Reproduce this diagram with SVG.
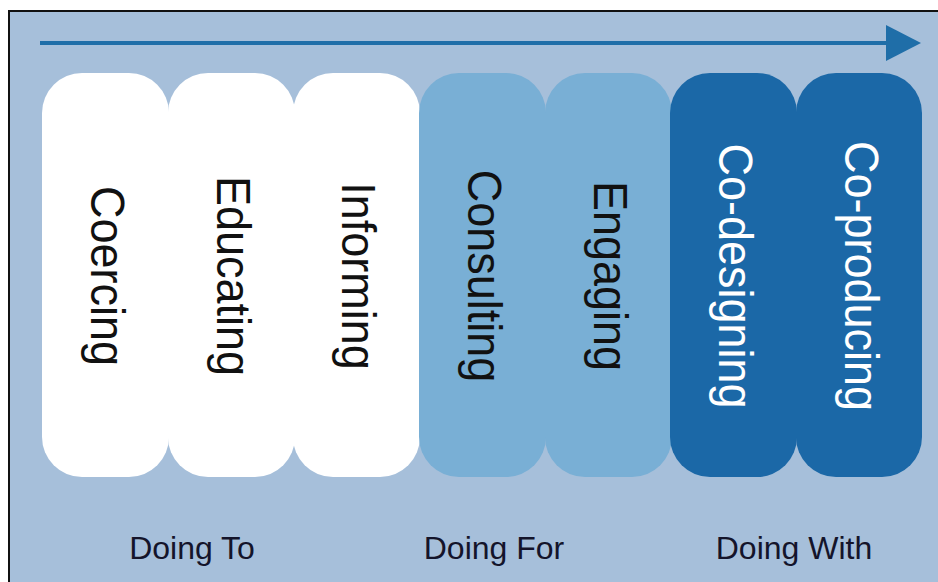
<svg xmlns="http://www.w3.org/2000/svg" width="938" height="582" viewBox="0 0 938 582">
<style>
.pill{stroke:none}
.w{fill:#ffffff}
.l{fill:#79afd5}
.d{fill:#1b68a7}
.vt{font-family:"Liberation Sans",Arial,sans-serif;font-size:45px;text-anchor:middle}
.dk{fill:#111111}
.lt{fill:#ffffff}
.lab{font-family:"Liberation Sans",Arial,sans-serif;font-size:32px;fill:#14142a;text-anchor:middle}
</style>
<rect x="0" y="0" width="938" height="582" fill="#ffffff"/>
<rect x="9" y="11" width="940" height="590" fill="#a6bfda" stroke="#111111" stroke-width="2"/>
<g id="connectors">
<line x1="40" y1="43" x2="890" y2="43" stroke="#1f6ea8" stroke-width="4"/>
<polygon points="886,25 921,43 886,61" fill="#1f6ea8"/>
</g>
<g id="coercing"><rect class="pill w" x="42" y="73" width="127" height="404" rx="40"/><text class="vt dk" transform="translate(91,276) scale(1.08,1) rotate(90)">Coercing</text></g>
<g id="educating"><rect class="pill w" x="168" y="73" width="127" height="404" rx="40"/><text class="vt dk" transform="translate(217,276) scale(1.08,1) rotate(90)">Educating</text></g>
<g id="informing"><rect class="pill w" x="293" y="73" width="127" height="404" rx="40"/><text class="vt dk" transform="translate(342,276) scale(1.08,1) rotate(90)">Informing</text></g>
<g id="consulting"><rect class="pill l" x="419" y="73" width="127" height="404" rx="40"/><text class="vt dk" transform="translate(468,276) scale(1.08,1) rotate(90)">Consulting</text></g>
<g id="engaging"><rect class="pill l" x="545" y="73" width="127" height="404" rx="40"/><text class="vt dk" transform="translate(594,276) scale(1.08,1) rotate(90)">Engaging</text></g>
<g id="co-designing"><rect class="pill d" x="670" y="73" width="127" height="404" rx="40"/><text class="vt lt" transform="translate(719,276) scale(1.08,1) rotate(90)">Co-designing</text></g>
<g id="co-producing"><rect class="pill d" x="796" y="73" width="126" height="404" rx="40"/><text class="vt lt" transform="translate(845,276) scale(1.08,1) rotate(90)">Co-producing</text></g>
<g id="doing-to"><text class="lab" x="192" y="559">Doing To</text></g>
<g id="doing-for"><text class="lab" x="494" y="559">Doing For</text></g>
<g id="doing-with"><text class="lab" x="794" y="559">Doing With</text></g>
</svg>
